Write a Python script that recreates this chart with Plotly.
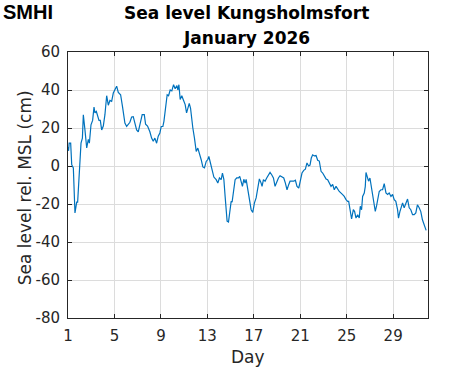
import plotly.graph_objects as go

day = [1.00, 1.05, 1.10, 1.23, 1.32, 1.46, 1.60, 1.75, 1.83, 1.95, 2.12, 2.24, 2.32, 2.46, 2.61,
       2.75, 2.84, 2.98, 3.12, 3.24, 3.32, 3.44, 3.55, 3.67, 3.78, 3.90, 4.04, 4.18, 4.33, 4.47,
       4.61, 4.76, 4.90, 5.04, 5.19, 5.33, 5.53, 5.70, 5.90, 6.05, 6.19, 6.33, 6.48, 6.62, 6.76,
       6.91, 7.05, 7.25, 7.39, 7.57, 7.68, 7.85, 8.05, 8.20, 8.34, 8.48, 8.63, 8.77, 8.91,
       9.03, 9.17, 9.26, 9.40, 9.54, 9.66, 9.80, 9.94, 10.09, 10.23, 10.38, 10.46, 10.55, 10.66,
       10.80, 10.92, 11.09, 11.21, 11.32, 11.44, 11.55, 11.66, 11.75, 11.89, 12.04, 12.18, 12.32,
       12.47, 12.61, 12.75, 12.90, 13.04, 13.13, 13.24, 13.38, 13.56, 13.76, 13.90, 14.04, 14.19,
       14.30, 14.42, 14.53, 14.62, 14.70, 14.82, 14.93, 15.05, 15.13, 15.25, 15.39, 15.53, 15.68,
       15.79, 15.91, 16.02, 16.14, 16.25, 16.34, 16.48, 16.62,
       16.77, 16.91, 17.05, 17.20, 17.34, 17.48, 17.63, 17.71, 17.83, 17.97, 18.11, 18.26, 18.40,
       18.54, 18.69, 18.83, 18.97, 19.12, 19.26, 19.40, 19.58, 19.72, 19.86, 20.01, 20.12, 20.29,
       20.44, 20.58, 20.72, 20.87, 20.98, 21.15, 21.30, 21.44, 21.58, 21.72, 21.84, 21.95, 22.07,
       22.21, 22.36, 22.50, 22.64, 22.79, 22.93, 23.07, 23.22, 23.36, 23.50, 23.65, 23.79, 23.93,
       24.08, 24.22, 24.36,
       24.65, 24.79, 24.94, 25.08, 25.17, 25.31, 25.42, 25.57, 25.68, 25.80, 25.94, 26.08, 26.17,
       26.28, 26.37, 26.51, 26.60, 26.66, 26.77, 26.88, 27.00, 27.11, 27.23, 27.34, 27.46, 27.57,
       27.69, 27.80, 27.95, 28.09, 28.23, 28.38, 28.52, 28.66, 28.81, 28.95, 29.09, 29.23, 29.38,
       29.46, 29.58, 29.69, 29.81, 29.95, 30.09, 30.24, 30.38, 30.52, 30.67, 30.81, 30.95, 31.09,
       31.24, 31.38, 31.52, 31.66, 31.75, 31.84]

sea_level = [10, 8, 12, 12, 0.7, -1, -24.7, -19, -19, -7, 12, 14.7, 27, 19, 9.5,
             14, 12, 21.7, 24, 31, 28, 28.7, 26, 24, 24, 19, 21, 27, 37, 32,
             34.5, 34, 38.4, 40.5, 42, 38.7, 37.5, 31, 22.6, 20.8, 21.7, 23, 25.8, 26, 22.6,
             19, 18, 22.6, 27, 27, 22, 21, 18, 14.7, 13, 14.7, 12, 15.7, 17.4,
             20.8, 20.8, 23.5, 31, 37.5, 37, 40, 39.5, 42.8, 40.7, 42.3, 40, 42.8, 35,
             37, 35, 32.3, 28, 30.5, 33, 30.5, 22.6, 20, 14.7, 7.7, 9.4, 6.8,
             3.3, -0.5, -1, 2.4, 3.4, 5, 2, -2, -5.8, -7.2, -9, -6.3, -7.2,
             -3.7, -7, -16, -24.7, -29, -29.5, -24.7, -18.6, -19, -14.2, -7.2, -6.3, -6.3,
             -5.5, -8, -10.7, -7, -9, -7, -12.5, -16.8,
             -23, -24.4, -19.5, -16.8, -10.7, -6.8, -9, -10.7, -7.2, -8, -6.3, -4.6, -3.4,
             -4.6, -6.3, -10.7, -8, -6.3, -5.1, -5.8, -6.3, -9, -12.5, -9.7, -8, -8,
             -8, -7.5, -10.7, -11.6, -9, -3.7, -2.3, -1.7, 1.6, 0, 0.5, 4.2, 5.9,
             5.3, 5.5, 3, 2.6, -2.8, -3.7, -5.5, -6.8, -7.2, -9, -10.7, -9.7, -12.5,
             -10.7, -12, -13.4,
             -15.1, -16, -17.7, -18.6, -18.6, -23, -27.9, -23, -24, -27.4, -25.6, -27.4, -21.2,
             -23, -16, -14.2, -10.7, -3.4, -6.3, -8, -6.3, -10.7, -15.1, -19.2, -23.9, -21,
             -16, -13.4, -12.5, -12.5, -9.3, -14.2, -15, -14.2, -16, -15, -17.7, -18.6, -23,
             -27.4, -24, -21, -19.5, -22, -19.5, -17.4, -22, -23, -25.6, -25.6, -24.7, -20.4,
             -22, -24, -28.3, -30.9, -32.6, -33.9]

x_ticks = [1, 5, 9, 13, 17, 21, 25, 29]
y_ticks = [-80, -60, -40, -20, 0, 20, 40, 60]

title_lines = ["Sea level Kungsholmsfort", "January 2026"]
x_label = "Day"
y_label = "Sea level rel. MSL (cm)"
logo_text = "SMHI"

TXT = "#262626"
FONT = "DejaVu Sans"

fig = go.Figure()
fig.add_trace(go.Scatter(x=day, y=sea_level, mode="lines",
                         line=dict(color="#0072BD", width=1.2),
                         hoverinfo="skip", showlegend=False))

axis_common = dict(
    showline=True, linecolor=TXT, linewidth=1, mirror="ticks",
    ticks="inside", ticklen=4, tickcolor=TXT, tickwidth=1,
    showgrid=True, gridcolor="#DCDCDC", gridwidth=1, zeroline=False,
    tickfont=dict(family=FONT, size=15, color=TXT), automargin=False,
)

fig.update_xaxes(range=[1, 32], tickvals=x_ticks, ticktext=[str(v) for v in x_ticks],
                 ticklabelstandoff=4, **axis_common)
fig.update_yaxes(range=[-80, 60], tickvals=y_ticks, ticktext=[str(v) for v in y_ticks],
                 ticklabelstandoff=4, **axis_common)

fig.update_layout(
    width=471, height=371,
    margin=dict(l=68, r=43, t=52, b=53),
    paper_bgcolor="white", plot_bgcolor="white",
)

fig.add_annotation(text=title_lines[0], xref="paper", yref="paper", x=0.497, y=1.145,
                   xanchor="center", yanchor="middle", showarrow=False,
                   font=dict(family=FONT, size=17, color="black", weight="bold"))
fig.add_annotation(text=title_lines[1], xref="paper", yref="paper", x=0.497, y=1.0545,
                   xanchor="center", yanchor="middle", showarrow=False,
                   font=dict(family=FONT, size=17, color="black", weight="bold"))
fig.add_annotation(text=x_label, xref="paper", yref="paper", x=0.5, y=-0.148,
                   xanchor="center", yanchor="middle", showarrow=False,
                   font=dict(family=FONT, size=17, color=TXT))
fig.add_annotation(text=y_label, xref="paper", yref="paper", x=-0.121, y=0.489,
                   xanchor="center", yanchor="middle", showarrow=False, textangle=-90,
                   font=dict(family=FONT, size=17, color=TXT))
fig.add_annotation(text=logo_text, xref="paper", yref="paper", x=-0.186, y=1.150,
                   xanchor="left", yanchor="middle", showarrow=False,
                   font=dict(family="Liberation Sans", size=20,
                             color="black", weight="bold"))

fig.write_html("out.html", config={"displayModeBar": False, "staticPlot": True},
               post_script="document.body.style.margin='0';document.body.style.overflow='hidden';")
